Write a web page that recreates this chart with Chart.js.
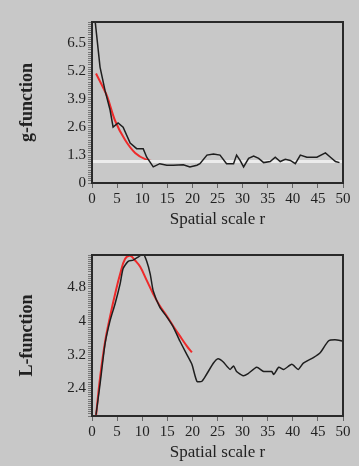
<!DOCTYPE html>
<html>
<head>
<meta charset="utf-8">
<script src="https://cdn.jsdelivr.net/npm/chart.js"></script>
<style>
  body { margin: 0; background: #c8c8c8; }
  canvas { position: absolute; left: 0; }
</style>
</head>
<body>
<canvas id="gfun" width="359" height="233" style="top:0"></canvas>
<canvas id="lfun" width="359" height="233" style="top:233px"></canvas>
<script>
// g-function (black)
var gR   = [0.6, 1.6, 2.6, 3.6, 4.2, 5.2, 6.2, 7.6, 8.9, 10.2, 10.9, 12.2, 13.5, 14.9, 16.2, 18.2, 19.5, 20.9, 21.5, 22.9, 24.2, 25.5, 26.8, 28.2, 28.8, 29.5, 30.2, 31.2, 32.2, 33.2, 34.2, 35.5, 36.5, 37.5, 38.5, 39.5, 40.5, 41.5, 42.8, 44.8, 46.5, 47.5, 48.5, 49.3];
var gVal = [7.6, 5.4, 4.3, 3.4, 2.6, 2.8, 2.6, 1.86, 1.6, 1.6, 1.2, 0.75, 0.9, 0.83, 0.83, 0.85, 0.75, 0.83, 0.9, 1.3, 1.35, 1.3, 0.9, 0.9, 1.3, 1.05, 0.75, 1.15, 1.25, 1.15, 0.95, 1.0, 1.2, 1.0, 1.1, 1.05, 0.9, 1.3, 1.2, 1.2, 1.4, 1.2, 1.0, 0.95];
// fitted g (red)
var gFitR   = [0.8, 2.9, 4.6, 6.6, 8.6, 10.7, 12.6, 15, 20];
var gFitVal = [5.1, 4.1, 2.9, 2.0, 1.4, 1.1, 1.0, 1.0, 1.0];
// reference level g = 1 (white)
var gRefR   = [0, 50];
var gRefVal = [1, 1];

// L-function (black)
var lR   = [0.8, 1.6, 2.6, 3.6, 4.6, 5.6, 6.2, 7.2, 8.2, 9.2, 10.2, 10.9, 11.6, 12.2, 13.5, 14.9, 16.2, 17.5, 18.9, 19.9, 20.9, 21.9, 22.8, 24.2, 25.1, 26.1, 27.5, 28.2, 28.8, 30.1, 31.1, 32.8, 34.2, 35.8, 36.2, 37.2, 38.2, 39.8, 41.1, 42.1, 44.1, 45.5, 47.1, 48.4, 50];
var lVal = [1.78, 2.5, 3.45, 4.0, 4.4, 4.87, 5.23, 5.4, 5.43, 5.5, 5.58, 5.4, 5.1, 4.7, 4.32, 4.09, 3.85, 3.52, 3.2, 2.97, 2.57, 2.57, 2.73, 3.0, 3.1, 3.03, 2.85, 2.93, 2.8, 2.7, 2.75, 2.9, 2.8, 2.8, 2.73, 2.9, 2.85, 2.97, 2.85, 3.0, 3.13, 3.25, 3.52, 3.55, 3.52];
// fitted L (red)
var lFitR   = [0.8, 1.6, 2.6, 3.6, 4.6, 5.6, 6.6, 7.6, 8.6, 9.6, 10.9, 12.2, 13.5, 14.9, 16.2, 17.5, 18.9, 19.9];
var lFitVal = [1.75, 2.65, 3.5, 4.1, 4.63, 5.1, 5.46, 5.53, 5.42, 5.27, 4.95, 4.63, 4.35, 4.11, 3.87, 3.64, 3.4, 3.25];

var xTicks = [0, 5, 10, 15, 20, 25, 30, 35, 40, 45, 50];
var gTickLabels = [0, 1.3, 2.6, 3.9, 5.2, 6.5];
var lTickLabels = [2.4, 3.2, 4, 4.8];

function pts(xs, ys) {
  return xs.map(function (x, i) { return { x: x, y: ys[i] }; });
}

var frame = {
  id: 'frame',
  afterDraw: function (chart) {
    var a = chart.chartArea, ctx = chart.ctx;
    ctx.save();
    ctx.strokeStyle = '#2a2a2a';
    ctx.lineWidth = 2;
    ctx.strokeRect(a.left, a.top, a.right - a.left, a.bottom - a.top);
    ctx.restore();
  }
};

function makeChart(id, datasets, yTitle, yMin, yMax, yStep, yLabels) {
  return new Chart(document.getElementById(id), {
    type: 'line',
    data: { datasets: datasets },
    plugins: [frame],
    options: {
      responsive: false,
      animation: false,
      layout: { padding: { left: 13, right: 16, top: 22, bottom: 0 } },
      plugins: { legend: { display: false }, tooltip: { enabled: false } },
      elements: { point: { radius: 0 } },
      scales: {
        x: {
          type: 'linear', min: 0, max: 50,
          afterFit: function (s) { s.height = 50; },
          afterBuildTicks: function (s) { s.ticks = xTicks.map(function (v) { return { value: v }; }); },
          grid: { drawOnChartArea: false, tickLength: 5, color: '#666' },
          border: { display: false },
          ticks: { autoSkip: false, maxRotation: 0, padding: 2, color: '#222',
                   font: { family: 'Liberation Serif', size: 15 } },
          title: { display: true, text: 'Spatial scale r', color: '#222', padding: { top: 0, bottom: 3 },
                   font: { family: 'Liberation Serif', size: 17 } }
        },
        y: {
          min: yMin, max: yMax,
          afterFit: function (s) { s.width = 79; },
          grid: { drawOnChartArea: false, tickLength: 4, color: '#777' },
          border: { display: false },
          ticks: {
            stepSize: yStep, autoSkip: false, padding: 2, color: '#222',
            font: { family: 'Liberation Serif', size: 15 },
            callback: function (v) {
              for (var i = 0; i < yLabels.length; i++) {
                if (Math.abs(v - yLabels[i]) < 1e-6) return String(yLabels[i]);
              }
              return '';
            }
          },
          title: { display: true, text: yTitle, color: '#222',
                   font: { family: 'Liberation Serif', size: 18, weight: 'bold' } }
        }
      }
    }
  });
}

makeChart('gfun', [
  { data: pts(gR, gVal), borderColor: '#1e1e1e', borderWidth: 1.5, tension: 0 },
  { data: pts(gRefR, gRefVal), borderColor: '#ececec', borderWidth: 3, tension: 0 },
  { data: pts(gFitR, gFitVal), borderColor: '#ee2a2a', borderWidth: 2, tension: 0.3 }
], 'g-function', 0, 7.5, 0.1, gTickLabels);

makeChart('lfun', [
  { data: pts(lR, lVal), borderColor: '#1e1e1e', borderWidth: 1.5, tension: 0.2 },
  { data: pts(lFitR, lFitVal), borderColor: '#ee2a2a', borderWidth: 2, tension: 0.4 }
], 'L-function', 1.75, 5.55, 0.05, lTickLabels);
</script>
</body>
</html>
